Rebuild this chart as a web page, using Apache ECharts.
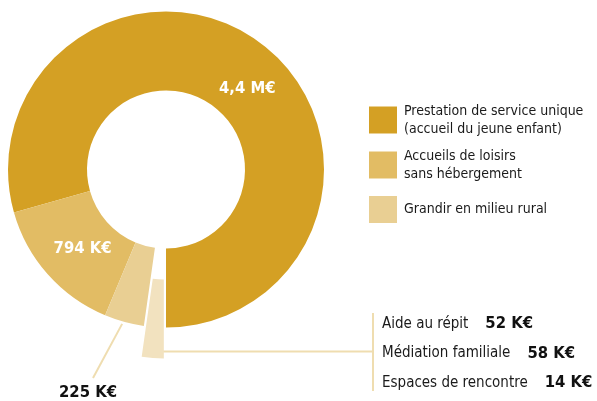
<!DOCTYPE html>
<html><head><meta charset="utf-8">
<script src="https://cdn.jsdelivr.net/npm/echarts@6/dist/echarts.min.js"></script>
<style>html,body{margin:0;padding:0;background:#fff}#c{width:597px;height:401px}</style>
</head><body><div id="c"></div>
<script>
var categories = ['Prestation de service unique\n(accueil du jeune enfant)', 'Accueils de loisirs\nsans hébergement', 'Grandir en milieu rural', 'Autres'];
var values = [4400, 794, 225, 124];
var valueLabels = ['4,4 M€', '794 K€', '225 K€', ' '];
var detailNames = ['Aide au répit', 'Médiation familiale', 'Espaces de rencontre'];
var detailValues = ['52 K€', '58 K€', '14 K€'];
var colors = ['#D4A024', '#E2BC64', '#E9CF93', '#F2E2BF'];
var lineColor = '#EFDDB0';
var FONT = "'Liberation Sans Narrow','Arial Narrow','DejaVu Sans Condensed',sans-serif";

var chart = echarts.init(document.getElementById('c'));
var data = values.map(function (v, i) {
  var d = { name: categories[i], value: v, itemStyle: { color: colors[i] }, select: { itemStyle: { color: colors[i] } } };
  if (i === 3) d.selected = true;
  return d;
});
var detailText = detailNames.map(function (n, i) { return n + '{b|' + detailValues[i] + '}'; }).join('\n');

function legendFor(i, top) {
  return {
    data: [categories[i]], orient: 'vertical', left: 369, top: top, padding: 0,
    itemWidth: 28, itemHeight: 27, itemGap: 0, icon: 'rect', selectedMode: false,
    textStyle: { fontFamily: FONT, fontSize: 14, color: '#1a1a1a', lineHeight: 18, padding: [0, 0, 0, 2] }
  };
}

chart.setOption({
  animation: false,
  legend: [legendFor(0, 102), legendFor(1, 147), legendFor(2, 196)],
  graphic: [
    { type: 'line', shape: { x1: 373, y1: 313, x2: 373, y2: 391 }, style: { stroke: lineColor, lineWidth: 2 } },
    { type: 'text', x: 382, y: 353.5, style: {
        text: detailText, fill: '#1a1a1a', fontFamily: FONT, fontSize: 15, lineHeight: 29.5,
        align: 'left', verticalAlign: 'middle',
        rich: { b: { fontFamily: FONT, fontWeight: 'bold', fontSize: 16.5, fill: '#111', padding: [0, 0, 0, 17], lineHeight: 29.5 } }
    } }
  ],
  series: [{
    type: 'pie', center: [166, 169.5], radius: [79, 158], startAngle: 270, clockwise: false,
    selectedMode: 'single', selectedOffset: 31, avoidLabelOverlap: false,
    emphasis: { disabled: true },
    itemStyle: { borderWidth: 0 },
    label: {
      show: true, position: 'inside', fontFamily: FONT, fontWeight: 'bold', fontSize: 16.5, color: '#fff',
      formatter: function (p) { return valueLabels[p.dataIndex]; }
    },
    labelLine: { show: false, lineStyle: { color: lineColor, width: 2 } },
    data: data.map(function (d, i) {
      if (i >= 2) {
        d.label = { position: 'outside', color: '#111' };
        d.labelLine = { show: true, length: 10, length2: 10 };
      }
      return d;
    }),
    labelLayout: function (p) {
      if (p.dataIndex === 0) return { dx: 8, dy: 16.5 };
      if (p.dataIndex === 1) return { dx: 7.5, dy: -1.5 };
      if (p.dataIndex === 2) {
        var s = p.labelLinePoints ? p.labelLinePoints[0] : [122, 323];
        return { x: 88, y: 393, align: 'center', verticalAlign: 'middle', labelLinePoints: [[s[0] - 2, s[1] + 2], [93, 378], [93, 378]] };
      }
      if (p.dataIndex === 3) {
        return { labelLinePoints: [[165.2, 320.6], [375.2, 320.6], [375.2, 320.6]] };
      }
    }
  }]
});
</script></body></html>
